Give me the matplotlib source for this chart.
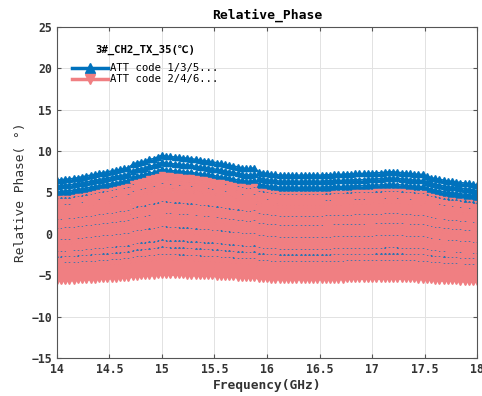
import numpy as np
import matplotlib.pyplot as plt
from matplotlib.lines import Line2D

# Frequency grid (GHz), one point every 0.04 GHz
freq = np.round(np.arange(14.0, 18.0001, 0.04), 2)

# Common shape of the phase curves (deg above the 14 GHz value)
shape = [0.0, 0.05, 0.1, 0.15, 0.2, 0.3, 0.4, 0.5, 0.6, 0.7,
         0.8, 0.9, 1.0, 1.1, 1.2, 1.3, 1.4, 1.5, 1.9, 2.1,
         2.2, 2.3, 2.5, 2.6, 2.8, 3.0, 2.9, 2.85, 2.8, 2.75,
         2.7, 2.65, 2.6, 2.5, 2.4, 2.35, 2.3, 2.2, 2.1, 2.0,
         1.9, 1.8, 1.7, 1.6, 1.5, 1.4, 1.4, 1.5, 1.0, 0.9,
         0.8, 0.7, 0.7, 0.6, 0.6, 0.6, 0.6, 0.6, 0.6, 0.6,
         0.6, 0.6, 0.6, 0.6, 0.65, 0.65, 0.7, 0.7, 0.7, 0.75,
         0.75, 0.8, 0.8, 0.8, 0.85, 0.85, 0.9, 0.9, 0.95, 1.0,
         1.0, 0.95, 0.9, 0.85, 0.8, 0.75, 0.7, 0.7, 0.5, 0.3,
         0.2, 0.1, 0.0, -0.1, -0.15, -0.2, -0.3, -0.35, -0.4, -0.5,
         -0.6]

# ATT code 1/3/5... : phase at 14 GHz and bump amplitude per state
blue_offset = [6.5, 5.8, 5.1, 4.5, 4.0, 3.1, 1.4, 0.35, -1.05, -2.45,
               -3.1, -3.85]
blue_amp = [1.0, 0.95, 0.9, 0.88, 0.85, 0.88, 0.74, 0.62, 0.55, 0.48,
            0.41, 0.37]

# ATT code 2/4/6...
pink_offset = [4.1, 3.75, 3.4, 3.05, 2.7, 2.35, 2.0, 1.65, 1.3, 0.95,
               0.6, 0.25, -0.1, -0.45, -0.8, -1.15, -1.5, -1.85, -2.2, -2.55,
               -2.9, -3.25, -3.6, -3.95, -4.3, -4.6, -4.9, -5.15, -5.4, -5.55,
               -5.7]
pink_amp = [1.0, 0.96, 0.92, 0.88, 0.84, 0.8, 0.77, 0.74, 0.71, 0.68,
            0.65, 0.62, 0.6, 0.57, 0.55, 0.52, 0.5, 0.48, 0.45, 0.43,
            0.41, 0.39, 0.37, 0.35, 0.33, 0.31, 0.3, 0.28, 0.27, 0.26,
            0.25]

blue = '#0072BD'
pink = '#F07F82'
shape = np.array(shape)

plt.rcParams['font.family'] = ['DejaVu Sans Mono', 'Noto Sans CJK SC']

fig = plt.figure(figsize=(4.82, 3.96), dpi=100)
ax = fig.add_axes([0.118, 0.096, 0.872, 0.836])

# curves drawn from the highest to the lowest one, both groups mixed
curves = [(o, a, blue, '^') for o, a in zip(blue_offset, blue_amp)]
curves += [(o, a, pink, 'v') for o, a in zip(pink_offset, pink_amp)]
curves.sort(key=lambda c: -c[0])
for off, amp, col, mk in curves:
    ax.plot(freq, off + amp * shape, color=col, lw=1.0,
            marker=mk, ms=4, mec=col, mfc=col)

ax.set_xlim(14, 18)
ax.set_ylim(-15, 25)
ax.set_xticks(np.arange(14, 18.01, 0.5))
ax.set_xticklabels(['14', '14.5', '15', '15.5', '16', '16.5', '17', '17.5', '18'])
ax.set_yticks(np.arange(-15, 26, 5))
ax.grid(True, color='#E2E2E2', lw=0.7)
ax.set_axisbelow(True)
ax.tick_params(direction='in', top=True, right=True, length=3,
               labelsize=8.3, color='#555555')
for lab in ax.get_xticklabels() + ax.get_yticklabels():
    lab.set_fontweight('bold')
    lab.set_color('#333333')
for sp in ax.spines.values():
    sp.set_color('#555555')

ax.set_title('Relative_Phase', fontsize=9.4, fontweight='bold', pad=6)
ax.set_xlabel('Frequency(GHz)', fontsize=9.3, fontweight='bold', labelpad=2, color='#333333')
ax.set_ylabel('Relative Phase( °)', fontsize=9.3, labelpad=3, color='#333333')

handles = [Line2D([], [], color=blue, lw=2.5, marker='^', ms=7),
           Line2D([], [], color=pink, lw=2.5, marker='v', ms=7)]
leg = ax.legend(handles, ['ATT code 1/3/5...', 'ATT code 2/4/6...'],
                title='3#_CH2_TX_35(℃)', loc='upper left',
                bbox_to_anchor=(0.012, 0.975), frameon=False,
                fontsize=7.7, title_fontsize=7.7,
                handlelength=3.4, handletextpad=0.2, labelspacing=0.1)
leg.get_title().set_fontweight('bold')
leg._legend_box.sep = 6

fig.savefig('out.png', dpi=100)
